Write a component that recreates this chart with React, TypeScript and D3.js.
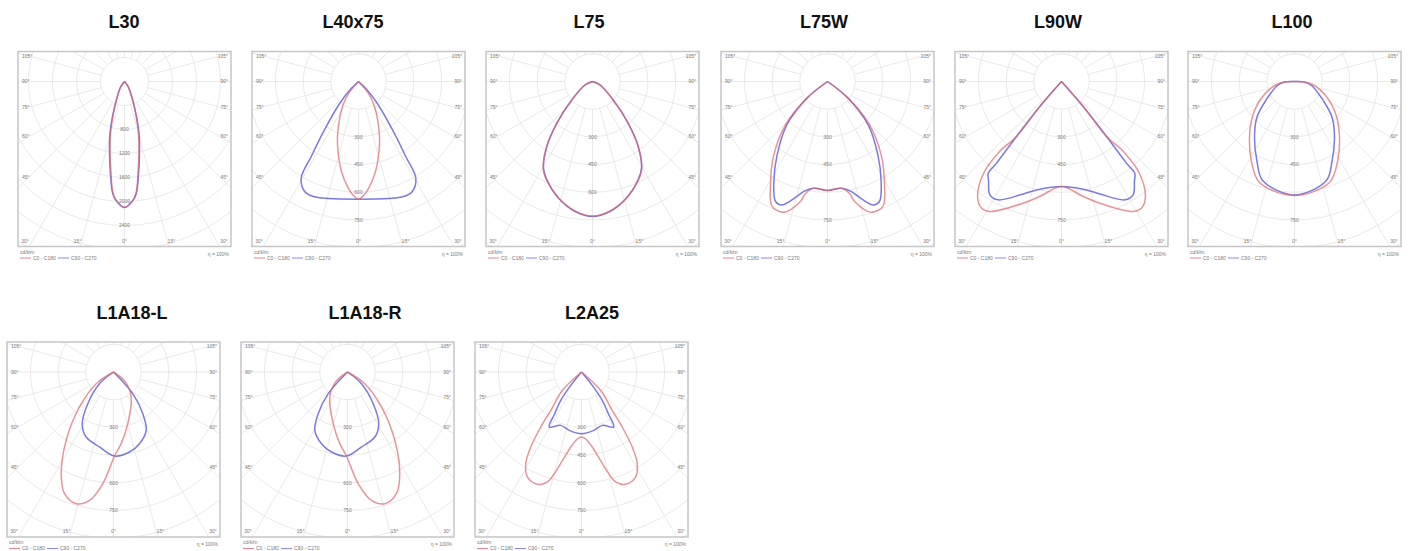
import React from 'react';
import * as d3 from 'd3';

type Pt = [number, number]; // [angle in degrees from nadir (right +), intensity cd/klm]

// ---------- titles / labels ----------
const TITLES = ['L30', 'L40x75', 'L75', 'L75W', 'L90W', 'L100', 'L1A18-L', 'L1A18-R', 'L2A25'];
const RING_STEPS = [400, 150, 150, 150, 150, 150, 150, 150, 150];
const RING_LABELS = [[2, 3, 4, 5, 6], [2, 3, 4, 5], [2, 3, 4], [2, 3, 5], [2, 3, 5], [2, 3, 5], [2, 4, 5], [2, 4, 5], [2, 3, 4, 5]];
const SYMMETRIC = [true, true, true, true, true, true, false, false, true];
const SIDE_ANGLES = [105, 90, 75, 60, 45];
const BOTTOM_ANGLES = [-30, -15, 0, 15, 30];
const LEGEND_LABELS = ['C0 - C180', 'C90 - C270'];
const UNIT_LABEL = 'cd/klm';
const ETA_LABEL = 'η = 100%';

// ---------- curve data (C0-C180 = red, C90-C270 = blue) ----------
const L30_C0: Pt[] = [[0, 2100], [4, 1990], [6, 1860], [8.5, 1530], [12, 1160], [15.5, 860], [19, 580], [24, 320], [35, 100], [90, 0]];
const L30_C90: Pt[] = [[0, 2100], [4, 1988], [6, 1877], [8.7, 1552], [12.1, 1193], [15.6, 900], [18.9, 617], [23.6, 345], [35, 117], [90, 0]];

const L40x75_C0: Pt[] = [[0, 637], [3, 613], [6, 572], [10.7, 496], [16.3, 395], [20.9, 319], [26.6, 230], [32.6, 161], [39.8, 84], [90, 0]];
const L40x75_C90: Pt[] = [[0, 637], [14.4, 654], [21.4, 669], [26.1, 663], [30.7, 608], [32.2, 480], [34.7, 340], [40.5, 160], [46, 62], [90, 0]];

const L75_C0: Pt[] = [[0, 728], [7.6, 708], [16.2, 657], [24.9, 589], [29.5, 542], [35.1, 432], [40.5, 298], [48.4, 150], [65.7, 44], [90, 0]];
const L75_C90: Pt[] = [[0, 731], [7.6, 710], [16.2, 658], [24.9, 587], [29.5, 539], [35.1, 430], [40.5, 297], [48.4, 149], [65.7, 43], [90, 0]];

const L75W_C0: Pt[] = [[0, 590], [7.5, 583], [11.1, 618], [12.7, 666], [18.5, 746], [23.9, 740], [28.9, 639], [36.2, 492], [44.1, 327], [51, 143], [90, 0]];
const L75W_C90: Pt[] = [[0, 590], [7.5, 583], [12.3, 610], [14.9, 644], [20.2, 712], [23.4, 708], [28.2, 615], [34.5, 481], [43.2, 322], [51, 143], [90, 0]];

const L90W_C0: Pt[] = [[0, 569], [10.7, 634], [17.5, 691], [28.9, 804], [32.3, 811], [36.1, 771], [40.3, 653], [41.5, 506], [39.3, 385], [41, 179], [90, 0]];
const L90W_C90: Pt[] = [[0, 569], [11.4, 595], [18.8, 643], [28.2, 727], [32.4, 725], [36.1, 670], [38.6, 636], [38.5, 565], [39.3, 385], [41, 179], [90, 0]];

const L100_C0: Pt[] = [[0, 617], [19.1, 579], [28.3, 492], [38.8, 389], [50.2, 296], [63.4, 200], [79.6, 105], [87.1, 54], [90, 0]];
const L100_C90: Pt[] = [[0, 614], [17.7, 564], [25.4, 475], [35.5, 373], [46.3, 282], [56.1, 189], [76.8, 95], [87.1, 54], [90, 0]];

const L1A18L_C0: Pt[] = [[-90, 0], [-55.9, 113], [-44.2, 264], [-34.7, 450], [-27.2, 619], [-21.9, 710], [-15.8, 741], [-10.6, 707], [-5.5, 608], [0.7, 455], [6.1, 390], [15.5, 290], [35.3, 166], [50.2, 84], [90, 0]];
const L1A18L_C90: Pt[] = [[-90, 0], [-50.1, 99], [-39, 221], [-31.2, 327], [-22.8, 382], [-10.6, 413], [0.7, 455], [11.3, 442], [19.9, 413], [29.3, 362], [35.1, 276], [41.6, 157], [90, 0]];

const L1A18R_C0: Pt[] = [[90, 0], [55.9, 113], [44.2, 264], [34.7, 450], [27.2, 619], [21.9, 710], [15.8, 741], [10.6, 707], [5.5, 608], [-0.7, 455], [-6.1, 390], [-15.5, 290], [-35.3, 166], [-50.2, 84], [-90, 0]];
const L1A18R_C90: Pt[] = [[90, 0], [50.1, 99], [39, 221], [31.2, 327], [22.8, 382], [10.6, 413], [-0.7, 455], [-11.3, 442], [-19.9, 413], [-29.3, 362], [-35.1, 276], [-41.6, 157], [-90, 0]];

const L2A25_C0: Pt[] = [[0, 352], [3.4, 362], [8.1, 410], [12.1, 489], [15, 570], [17.2, 623], [21.4, 653], [27.2, 640], [31.3, 581], [34.1, 490], [36.5, 370], [38.7, 266], [46.1, 143], [90, 0]];
const L2A25_C90: Pt[] = [[0, 334], [11.9, 323], [21.2, 310], [30.4, 345], [32.7, 270], [36.2, 190], [38.8, 93], [90, 0]];

const CURVES_C0 = [L30_C0, L40x75_C0, L75_C0, L75W_C0, L90W_C0, L100_C0, L1A18L_C0, L1A18R_C0, L2A25_C0];
const CURVES_C90 = [L30_C90, L40x75_C90, L75_C90, L75W_C90, L90W_C90, L100_C90, L1A18L_C90, L1A18R_C90, L2A25_C90];

// ---------- layout ----------
const BOX_W = 213;
const BOX_H = 195;
const CY_OFF = 30;
const LAYOUT = [
  { x: 18, y: 51.5, ringPx: 24, tx: 124, ty: 28 },
  { x: 252, y: 51.5, ringPx: 27.7, tx: 353, ty: 28 },
  { x: 486, y: 51.5, ringPx: 27.7, tx: 589, ty: 28 },
  { x: 721, y: 51.5, ringPx: 27.7, tx: 824, ty: 28 },
  { x: 955, y: 51.5, ringPx: 27.7, tx: 1058, ty: 28 },
  { x: 1188, y: 51.5, ringPx: 27.7, tx: 1292, ty: 28 },
  { x: 7, y: 342, ringPx: 27.7, tx: 132, ty: 319 },
  { x: 241, y: 342, ringPx: 27.7, tx: 365, ty: 319 },
  { x: 475, y: 342, ringPx: 27.7, tx: 592, ty: 319 },
];

const RED = '#e0666e';
const BLUE = '#6c6ce0';

function fullCurve(half: Pt[], symmetric: boolean): Pt[] {
  if (!symmetric) return half;
  const left: Pt[] = half.slice(1).map(([a, v]) => [-a, v] as Pt).reverse();
  return [...left, ...half];
}

function Panel({ idx }: { idx: number }) {
  const L = LAYOUT[idx];
  const left = L.x;
  const top = L.y;
  const right = left + BOX_W;
  const bottom = top + BOX_H;
  const cx = left + BOX_W / 2;
  const cy = top + CY_OFF;
  const step = RING_STEPS[idx];
  const rScale = d3.scaleLinear().domain([0, step]).range([0, L.ringPx]);
  const line = d3
    .lineRadial<Pt>()
    .angle((d) => Math.PI - (d[0] * Math.PI) / 180)
    .radius((d) => rScale(d[1]))
    .curve(d3.curveCatmullRom.alpha(0.5));
  const clipId = `clip-${idx}`;
  const rings = d3.range(1, 14).map((k) => rScale(k * step));
  const spokes = d3.range(0, 360, 15);
  const rad = (a: number) => (a * Math.PI) / 180;
  const r0 = rScale(step);
  const halfW = BOX_W / 2;

  const c0 = fullCurve(CURVES_C0[idx], SYMMETRIC[idx]);
  const c90 = fullCurve(CURVES_C90[idx], SYMMETRIC[idx]);

  const lblStyle = { fontSize: 5, fill: '#7a7a7a' } as const;

  return (
    <g>
      <text x={L.tx} y={L.ty} textAnchor="middle" fontSize={18} fontWeight="bold" fill="#111">
        {TITLES[idx]}
      </text>
      <defs>
        <clipPath id={clipId}>
          <rect x={left} y={top} width={BOX_W} height={BOX_H} />
        </clipPath>
      </defs>
      <g clipPath={`url(#${clipId})`}>
        {rings.map((rr, k) => (
          <circle key={k} cx={cx} cy={cy} r={rr} fill="none" stroke="#e3e3e3" strokeWidth={0.8} />
        ))}
        {spokes.map((a) => (
          <line
            key={a}
            x1={cx + r0 * Math.sin(rad(a))}
            y1={cy + r0 * Math.cos(rad(a))}
            x2={cx + 500 * Math.sin(rad(a))}
            y2={cy + 500 * Math.cos(rad(a))}
            stroke="#e3e3e3"
            strokeWidth={0.8}
          />
        ))}
        {RING_LABELS[idx].map((k) => (
          <text key={k} x={cx} y={cy + rScale(k * step) + 1.8} textAnchor="middle" {...lblStyle}>
            {k * step}
          </text>
        ))}
        <path d={line(c90) || ''} transform={`translate(${cx},${cy})`} fill="none" stroke={BLUE} strokeWidth={1.5} strokeOpacity={0.9} />
        <path d={line(c0) || ''} transform={`translate(${cx},${cy})`} fill="none" stroke={RED} strokeWidth={1.5} strokeOpacity={0.7} />
      </g>
      <rect x={left} y={top} width={BOX_W} height={BOX_H} fill="none" stroke="#c6c6c6" strokeWidth={1.5} />
      {SIDE_ANGLES.map((a) => {
        const dy = a === 90 ? 0 : (halfW - 11) / Math.tan(rad(a));
        return (
          <g key={a}>
            <text x={left + 4} y={cy + dy + 1.8} {...lblStyle}>{a}°</text>
            <text x={right - 3} y={cy + dy + 1.8} textAnchor="end" {...lblStyle}>{a}°</text>
          </g>
        );
      })}
      {BOTTOM_ANGLES.map((a) => {
        const dx = Math.sign(a) * Math.min(175 * Math.tan(rad(Math.abs(a))), halfW - 7);
        return (
          <text key={a} x={cx + dx} y={bottom - 4} textAnchor="middle" {...lblStyle}>
            {Math.abs(a)}°
          </text>
        );
      })}
      <text x={left + 2} y={bottom + 7} {...lblStyle}>{UNIT_LABEL}</text>
      <text x={right - 2} y={bottom + 9} textAnchor="end" {...lblStyle}>{ETA_LABEL}</text>
      <line x1={left + 2} x2={left + 13} y1={bottom + 11.5} y2={bottom + 11.5} stroke={RED} strokeWidth={0.8} />
      <text x={left + 15} y={bottom + 13} {...lblStyle}>{LEGEND_LABELS[0]}</text>
      <line x1={left + 40} x2={left + 51} y1={bottom + 11.5} y2={bottom + 11.5} stroke={BLUE} strokeWidth={0.8} />
      <text x={left + 53} y={bottom + 13} {...lblStyle}>{LEGEND_LABELS[1]}</text>
    </g>
  );
}

export default function App() {
  return (
    <svg
      width={1413}
      height={551}
      style={{ position: 'absolute', left: 0, top: 0, background: '#fff' }}
      fontFamily="'Liberation Sans', Arial, sans-serif"
    >
      {TITLES.map((_, i) => (
        <Panel key={i} idx={i} />
      ))}
    </svg>
  );
}
